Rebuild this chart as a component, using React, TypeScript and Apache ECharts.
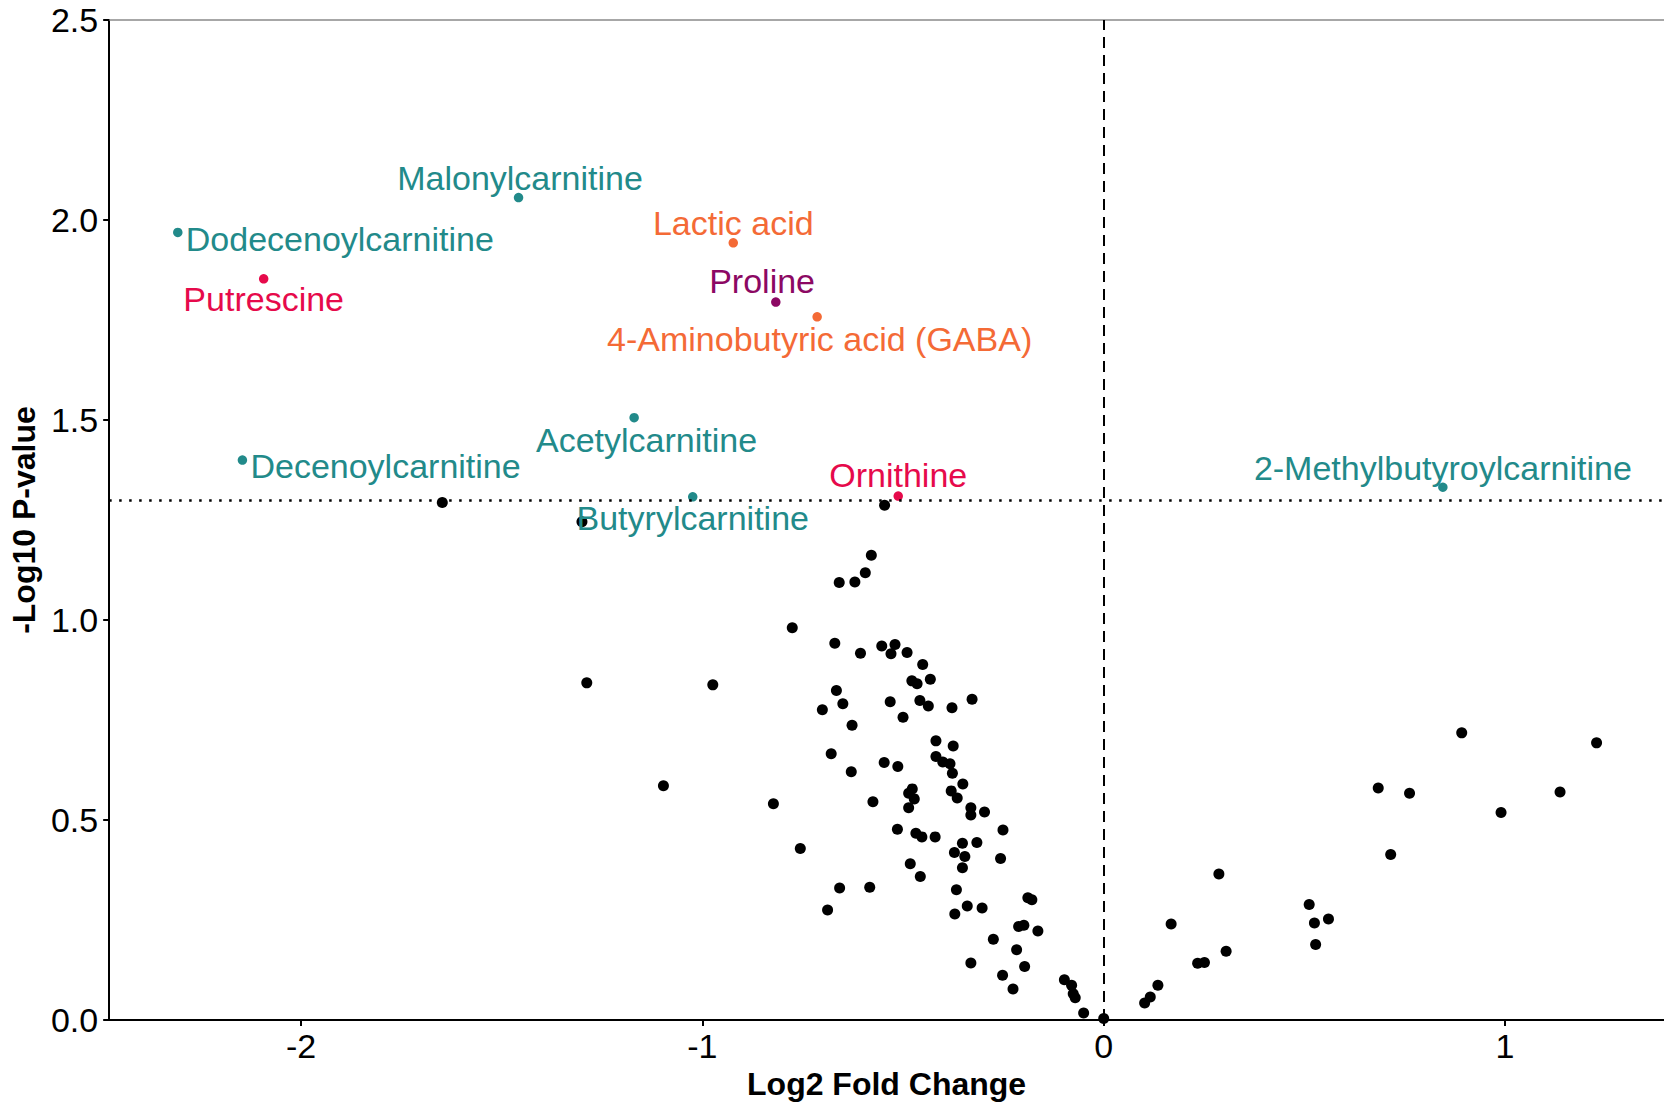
import React, { useEffect, useRef } from "react";
import * as echarts from "echarts";

// ---------- data ----------
const THRESHOLD = 1.301; // -log10(0.05)

const sigNames = [
  "Malonylcarnitine",
  "Dodecenoylcarnitine",
  "Putrescine",
  "Lactic acid",
  "Proline",
  "4-Aminobutyric acid (GABA)",
  "Acetylcarnitine",
  "Decenoylcarnitine",
  "Ornithine",
  "Butyrylcarnitine",
  "2-Methylbutyroylcarnitine",
];
const sigLog2FC = [-1.458, -2.307, -2.093, -0.923, -0.817, -0.714, -1.170, -2.146, -0.512, -1.024, 0.845];
const sigLogP = [2.056, 1.969, 1.853, 1.943, 1.795, 1.758, 1.506, 1.400, 1.310, 1.308, 1.332];
const sigGroup = ["teal", "teal", "red", "orange", "purple", "orange", "teal", "teal", "red", "teal", "teal"];

const nsLog2FC = [
  -1.648, -1.300, -0.546, -0.579, -0.594, -0.659, -0.620, -0.776, -0.670, -0.606,
  -0.553, -0.520, -0.530, -0.490, -0.451, -0.478, -0.465, -0.432, -1.288, -0.974,
  -0.666, -0.650, -0.701, -0.532, -0.458, -0.437, -0.378, -0.328, -0.500, -0.627,
  -0.418, -0.375, -0.679, -0.547, -0.513, -0.418, -0.401, -0.383, -0.629, -0.377,
  -1.097, -0.823, -0.351, -0.477, -0.486, -0.472, -0.486, -0.380, -0.365, -0.575,
  -0.331, -0.331, -0.297, -0.514, -0.468, -0.453, -0.420, -0.251, -0.756, -0.352,
  -0.316, -0.372, -0.346, -0.257, -0.352, -0.482, -0.457, -0.658, -0.583, -0.367,
  -0.688, -0.340, -0.303, -0.371, -0.189, -0.179, -0.212, -0.199, -0.164, -0.275,
  -0.217, -0.331, -0.197, -0.252, -0.226, -0.098, -0.080, -0.076, -0.071, -0.050,
  0.000, 0.892, 1.228, 0.684, 0.762, 1.137, 0.990, 0.715, 0.287, 0.512,
  0.525, 0.560, 0.528, 0.168, 0.305, 0.234, 0.251, 0.135, 0.116, 0.102,
];
const nsLogP = [
  1.294, 1.246, 1.287, 1.162, 1.118, 1.094, 1.095, 0.981, 0.942, 0.917,
  0.935, 0.939, 0.916, 0.919, 0.889, 0.848, 0.841, 0.852, 0.843, 0.838,
  0.824, 0.791, 0.776, 0.796, 0.799, 0.785, 0.781, 0.802, 0.757, 0.737,
  0.698, 0.685, 0.666, 0.644, 0.634, 0.659, 0.645, 0.641, 0.621, 0.617,
  0.586, 0.541, 0.590, 0.578, 0.567, 0.553, 0.531, 0.573, 0.555, 0.546,
  0.531, 0.513, 0.520, 0.477, 0.467, 0.458, 0.458, 0.475, 0.429, 0.442,
  0.444, 0.419, 0.409, 0.404, 0.381, 0.391, 0.359, 0.330, 0.332, 0.326,
  0.275, 0.285, 0.280, 0.265, 0.306, 0.301, 0.234, 0.237, 0.223, 0.202,
  0.176, 0.143, 0.134, 0.112, 0.078, 0.101, 0.087, 0.066, 0.056, 0.018,
  0.004, 0.718, 0.693, 0.580, 0.567, 0.570, 0.519, 0.414, 0.365, 0.289,
  0.243, 0.253, 0.189, 0.240, 0.172, 0.142, 0.144, 0.087, 0.058, 0.043,
];

const xTicks = [-2, -1, 0, 1];

// ---------- styling ----------
const groupColors: Record<string, string> = {
  teal: "#228A8A",
  red: "#E60A4B",
  orange: "#F46A36",
  purple: "#8C0863",
};

// label placement relative to point (pixels): [align, dx, dy]
const labelPlacement: Record<string, [string, number, number]> = {
  "Malonylcarnitine": ["center", 1.5, -20],
  "Dodecenoylcarnitine": ["left", 8, 6.5],
  "Putrescine": ["center", 0, 20],
  "Lactic acid": ["center", 0, -19.6],
  "Proline": ["center", -13.7, -20.6],
  "4-Aminobutyric acid (GABA)": ["center", 2.5, 21.7],
  "Acetylcarnitine": ["center", 12.4, 22.5],
  "Decenoylcarnitine": ["left", 8, 5.5],
  "Ornithine": ["center", 0, -20.6],
  "Butyrylcarnitine": ["center", 0, 21.3],
  "2-Methylbutyroylcarnitine": ["center", 0, -19.3],
};

const FONT = "'Liberation Sans', Arial, Helvetica, sans-serif";
const X_MIN = -2.478;
const X_MAX = 1.396;

export default function App() {
  const ref = useRef<HTMLDivElement>(null);

  useEffect(() => {
    if (!ref.current) return;
    const chart = echarts.init(ref.current, undefined, { renderer: "svg" });

    const nsData = nsLog2FC.map((x, i) => [x, nsLogP[i]]);
    const sigData = sigNames.map((name, i) => {
      const color = groupColors[sigGroup[i]];
      const [align, dx, dy] = labelPlacement[name];
      return {
        name,
        value: [sigLog2FC[i], sigLogP[i]],
        itemStyle: { color, opacity: 1 },
        label: {
          show: true,
          formatter: name,
          position: "inside",
          align,
          verticalAlign: "middle",
          offset: [dx, dy],
          color,
          fontSize: 34,
          fontFamily: FONT,
        },
      };
    });

    chart.setOption({
      animation: false,
      backgroundColor: "#ffffff",
      grid: { left: 107, right: 0, top: 20, bottom: 78, containLabel: false },
      xAxis: [
        {
          type: "value",
          min: X_MIN,
          max: X_MAX,
          position: "bottom",
          name: "Log2 Fold Change",
          nameLocation: "middle",
          nameGap: 42,
          nameTextStyle: { fontSize: 32, fontWeight: "bold", color: "#000", fontFamily: FONT },
          axisLine: { show: true, onZero: false, lineStyle: { color: "#000", width: 2 } },
          axisTick: { show: true, length: 6, customValues: xTicks, lineStyle: { color: "#000", width: 2 } },
          axisLabel: {
            customValues: xTicks,
            fontSize: 34,
            color: "#000",
            fontFamily: FONT,
            margin: 9,
            formatter: (v: number) => String(v),
          },
          splitLine: { show: false },
        },
        {
          type: "value",
          min: X_MIN,
          max: X_MAX,
          position: "top",
          axisLine: { show: true, onZero: false, lineStyle: { color: "#8a8a8a", width: 1.5 } },
          axisTick: { show: false },
          axisLabel: { show: false },
          splitLine: { show: false },
        },
      ],
      yAxis: {
        type: "value",
        min: 0,
        max: 2.5,
        interval: 0.5,
        name: "-Log10 P-value",
        nameLocation: "middle",
        nameGap: 59,
        nameTextStyle: { fontSize: 32, fontWeight: "bold", color: "#000", fontFamily: FONT },
        axisLine: { show: true, onZero: false, lineStyle: { color: "#000", width: 2 } },
        axisTick: { show: true, length: 6, lineStyle: { color: "#000", width: 2 } },
        axisLabel: {
          fontSize: 34,
          color: "#000",
          fontFamily: FONT,
          margin: 11,
          formatter: (v: number) => v.toFixed(1),
        },
        splitLine: { show: false },
      },
      series: [
        {
          type: "scatter",
          name: "ns",
          symbolSize: 11,
          itemStyle: { color: "#000", opacity: 1 },
          data: nsData,
          silent: true,
          markLine: {
            silent: true,
            symbol: "none",
            label: { show: false },
            data: [
              { yAxis: THRESHOLD, lineStyle: { color: "#000", width: 2.5, type: [2.5, 7.5], cap: "butt" } },
              { xAxis: 0, lineStyle: { color: "#000", width: 2, type: [11, 7], cap: "butt" } },
            ],
          },
        },
        {
          type: "scatter",
          name: "sig",
          symbolSize: 9.5,
          data: sigData,
          silent: true,
          z: 3,
        },
      ],
    });

    return () => chart.dispose();
  }, []);

  return (
    <div
      ref={ref}
      style={{ position: "fixed", left: 0, top: 0, width: 1664, height: 1105, background: "#fff" }}
    />
  );
}
